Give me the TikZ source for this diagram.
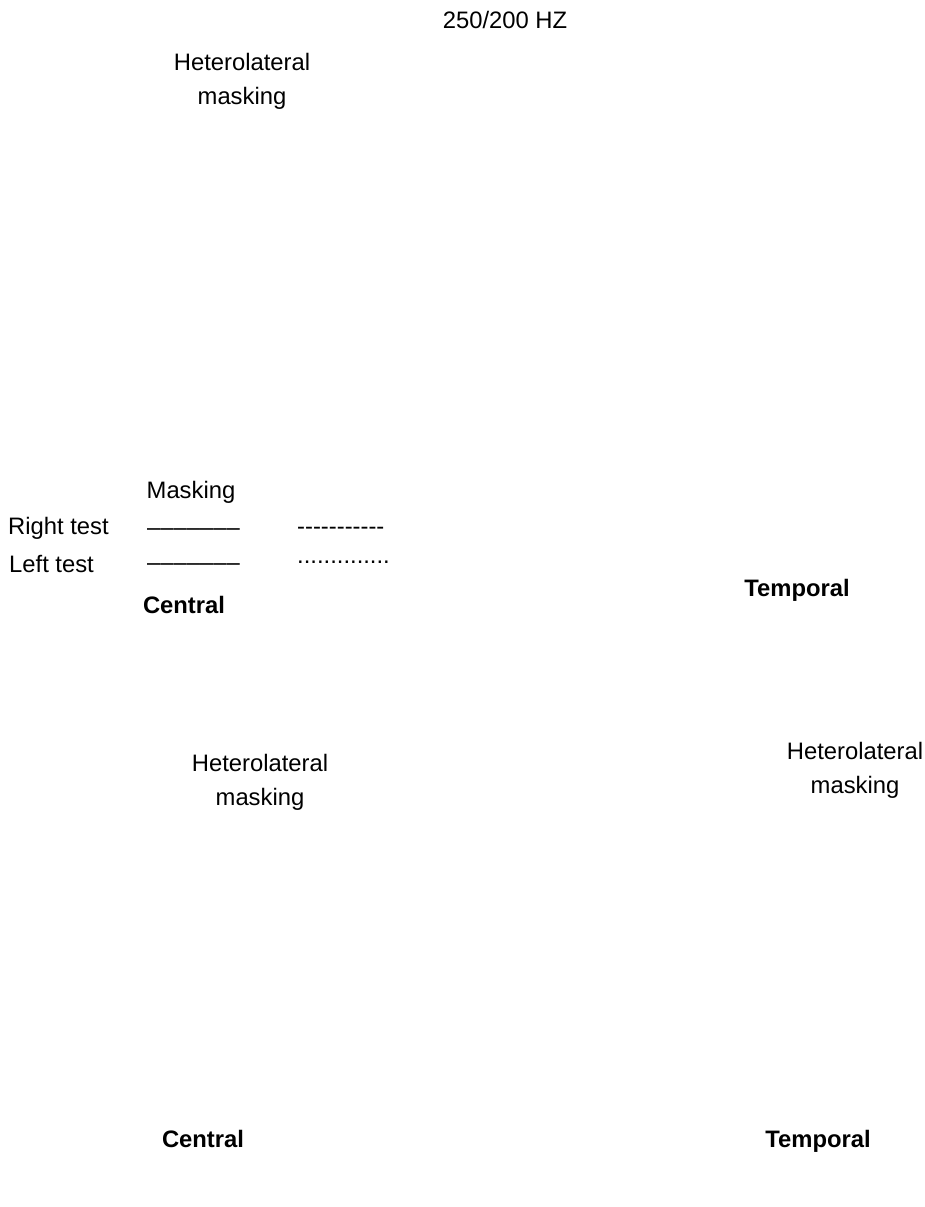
\documentclass[tikz,border=0pt]{standalone}
\usepackage{fontspec}
\setmainfont{Liberation Sans}
\begin{document}
\begin{tikzpicture}[x=1pt,y=-1pt,
  lbl/.style={inner sep=0pt,font=\fontsize{23.8}{34}\selectfont,align=center},
  bld/.style={lbl,font=\fontsize{23.8}{34}\selectfont\bfseries}]
\useasboundingbox (0,0) rectangle (925,1207);
\node[lbl] (title) at (505,20) {250/200 HZ};
\node[lbl] (het1) at (242,81) {Heterolateral\\masking};
\node[lbl] (mask) at (191,492) {Masking};
\node[lbl,anchor=west] (rt) at (8,528) {Right test};
\node[lbl,anchor=base west] (rtsolid) at (147,535.5) {–––––––};
\node[lbl,anchor=base west] (rtdash) at (297,534.5) {-{}-{}-{}-{}-{}-{}-{}-{}-{}-{}-};
\node[lbl,anchor=west] (lt) at (9,564) {Left test};
\node[lbl,anchor=base west] (ltsolid) at (147,570.5) {–––––––};
\node[lbl,anchor=base west] (ltdot) at (297,563.5) {..............};
\node[bld] (cen1) at (184,605) {Central};
\node[bld] (tem1) at (797,590) {Temporal};
\node[lbl] (het2) at (260,782) {Heterolateral\\masking};
\node[lbl] (het3) at (855,770) {Heterolateral\\masking};
\node[bld] (cen2) at (203,1139) {Central};
\node[bld] (tem2) at (818,1141) {Temporal};
\end{tikzpicture}
\end{document}
